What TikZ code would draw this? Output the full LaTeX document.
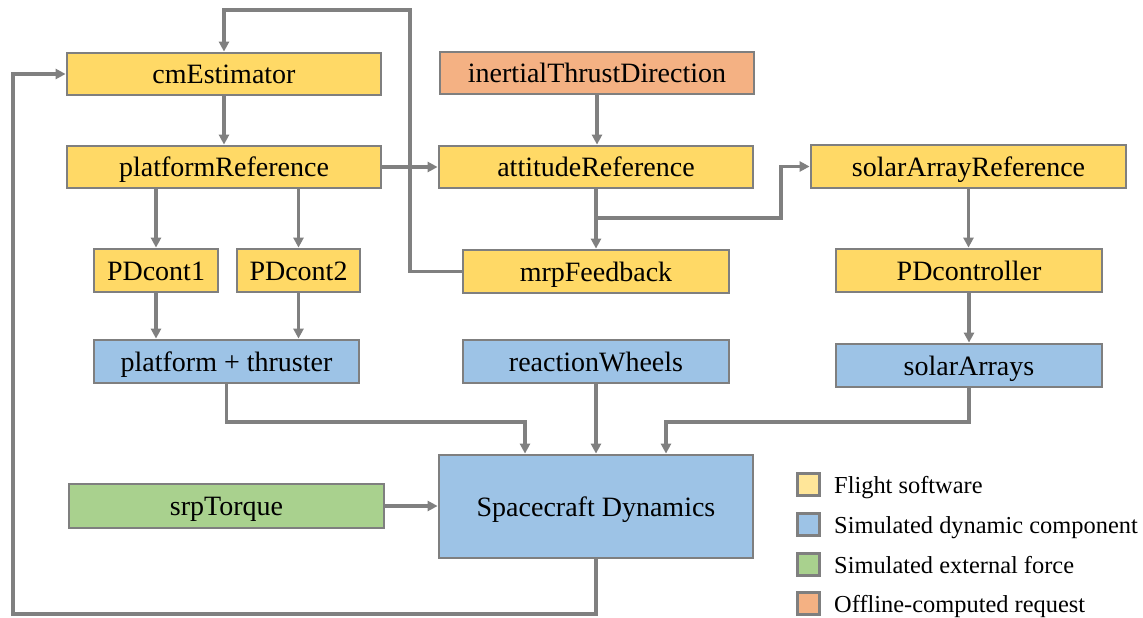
\documentclass[tikz,border=0pt]{standalone}
\usepackage{fontspec}
\setmainfont{Liberation Serif}
\usetikzlibrary{arrows.meta}
\definecolor{fswY}{HTML}{FFD966}
\definecolor{legY}{HTML}{FFE699}
\definecolor{dynB}{HTML}{9DC3E6}
\definecolor{extG}{HTML}{A9D18E}
\definecolor{offO}{HTML}{F4B183}
\definecolor{edgeG}{HTML}{7F7F7F}
\definecolor{lineG}{HTML}{808080}
\tikzset{
  blk/.style={draw=edgeG, line width=2.8pt, inner sep=0pt, font=\fontsize{28}{32}\selectfont,
    text height=21pt, text depth=1.4pt},
  fsw/.style={blk, fill=fswY},
  dyn/.style={blk, fill=dynB},
  ext/.style={blk, fill=extG},
  off/.style={blk, fill=offO},
  arr/.style={draw=lineG, line width=3.2pt, -{Triangle[length=10pt,width=10pt]}},
  legsq/.style={draw=edgeG, line width=2.4pt, minimum width=22pt, minimum height=22pt, inner sep=0pt},
  legtxt/.style={anchor=base west, inner sep=0pt, font=\fontsize{24.4}{28}\selectfont}
}
\begin{document}
\begin{tikzpicture}[x=1pt,y=-1pt]
\useasboundingbox[fill=white] (0,0) rectangle (1143,618);
% nodes
\node[fsw, minimum width=314pt, minimum height=42pt] (cm) at (224,74) {cmEstimator};
\node[fsw, minimum width=314pt, minimum height=42pt] (pref) at (224,167) {platformReference};
\node[off, minimum width=314pt, minimum height=42pt] (itd) at (597,73) {inertialThrustDirection};
\node[fsw, minimum width=314pt, minimum height=42pt] (aref) at (596,167) {attitudeReference};
\node[fsw, minimum width=266pt, minimum height=43pt] (mrp) at (596,271.5) {mrpFeedback};
\node[fsw, minimum width=315pt, minimum height=43pt] (saref) at (968.5,166.5) {solarArrayReference};
\node[fsw, minimum width=266pt, minimum height=43pt] (pdc) at (969,270.5) {PDcontroller};
\node[dyn, minimum width=266pt, minimum height=43pt] (sa) at (969,365.5) {solarArrays};
\node[fsw, minimum width=124pt, minimum height=43pt] (pd1) at (156,270.5) {PDcont1};
\node[fsw, minimum width=123pt, minimum height=43pt] (pd2) at (298.5,270.5) {PDcont2};
\node[dyn, minimum width=265pt, minimum height=43pt] (pt) at (226.5,361.5) {platform + thruster};
\node[dyn, minimum width=266pt, minimum height=43pt] (rw) at (596,361.5) {reactionWheels};
\node[dyn, minimum width=314pt, minimum height=103pt] (sc) at (596,506.5) {Spacecraft Dynamics};
\node[ext, minimum width=315pt, minimum height=44pt] (srp) at (226.5,506) {srpTorque};
% legend
\node[legsq, fill=legY] (l1) at (808.5,484.5) {};
\node[legsq, fill=dynB] (l2) at (808.5,524.5) {};
\node[legsq, fill=extG] (l3) at (808.5,564.5) {};
\node[legsq, fill=offO] (l4) at (808.5,603.5) {};
\node[legtxt] (t1) at (834,493) {Flight software};
\node[legtxt] (t2) at (834,533) {Simulated dynamic component};
\node[legtxt] (t3) at (834,573) {Simulated external force};
\node[legtxt] (t4) at (834,612) {Offline-computed request};
% helper coordinates
\coordinate (loopTop) at (410,10);
\coordinate (br) at (597,218);
\coordinate (sajog) at (781,218);
\coordinate (ptj) at (525,422);
\coordinate (saj) at (666,422);
\coordinate (bl) at (13,614);
% connectors
\draw[arr] (cm.south) -- (pref.north);
\draw[arr] (mrp.west) -| (loopTop) -| (cm.north);
\draw[arr] (pref.east) -- (aref.west);
\draw[arr] (itd.south) -- (itd.south |- aref.north);
\draw[arr] (aref.south) -- (mrp.north);
\draw[arr] (br) -- (sajog) |- (saref.west);
\draw[arr] (pref.south -| pd1.north) -- (pd1.north);
\draw[arr] (pref.south -| pd2.north) -- (pd2.north);
\draw[arr] (pd1.south) -- (pd1.south |- pt.north);
\draw[arr] (pd2.south) -- (pd2.south |- pt.north);
\draw[arr] (saref.south) -- (saref.south |- pdc.north);
\draw[arr] (pdc.south) -- (sa.north);
\draw[arr] (pt.south) |- (ptj) -- (ptj |- sc.north);
\draw[arr] (rw.south) -- (sc.north);
\draw[arr] (sa.south) |- (saj) -- (saj |- sc.north);
\draw[arr] (srp.east) -- (srp.east -| sc.west);
\draw[arr] (sc.south) |- (bl) |- (cm.west);
\end{tikzpicture}
\end{document}
